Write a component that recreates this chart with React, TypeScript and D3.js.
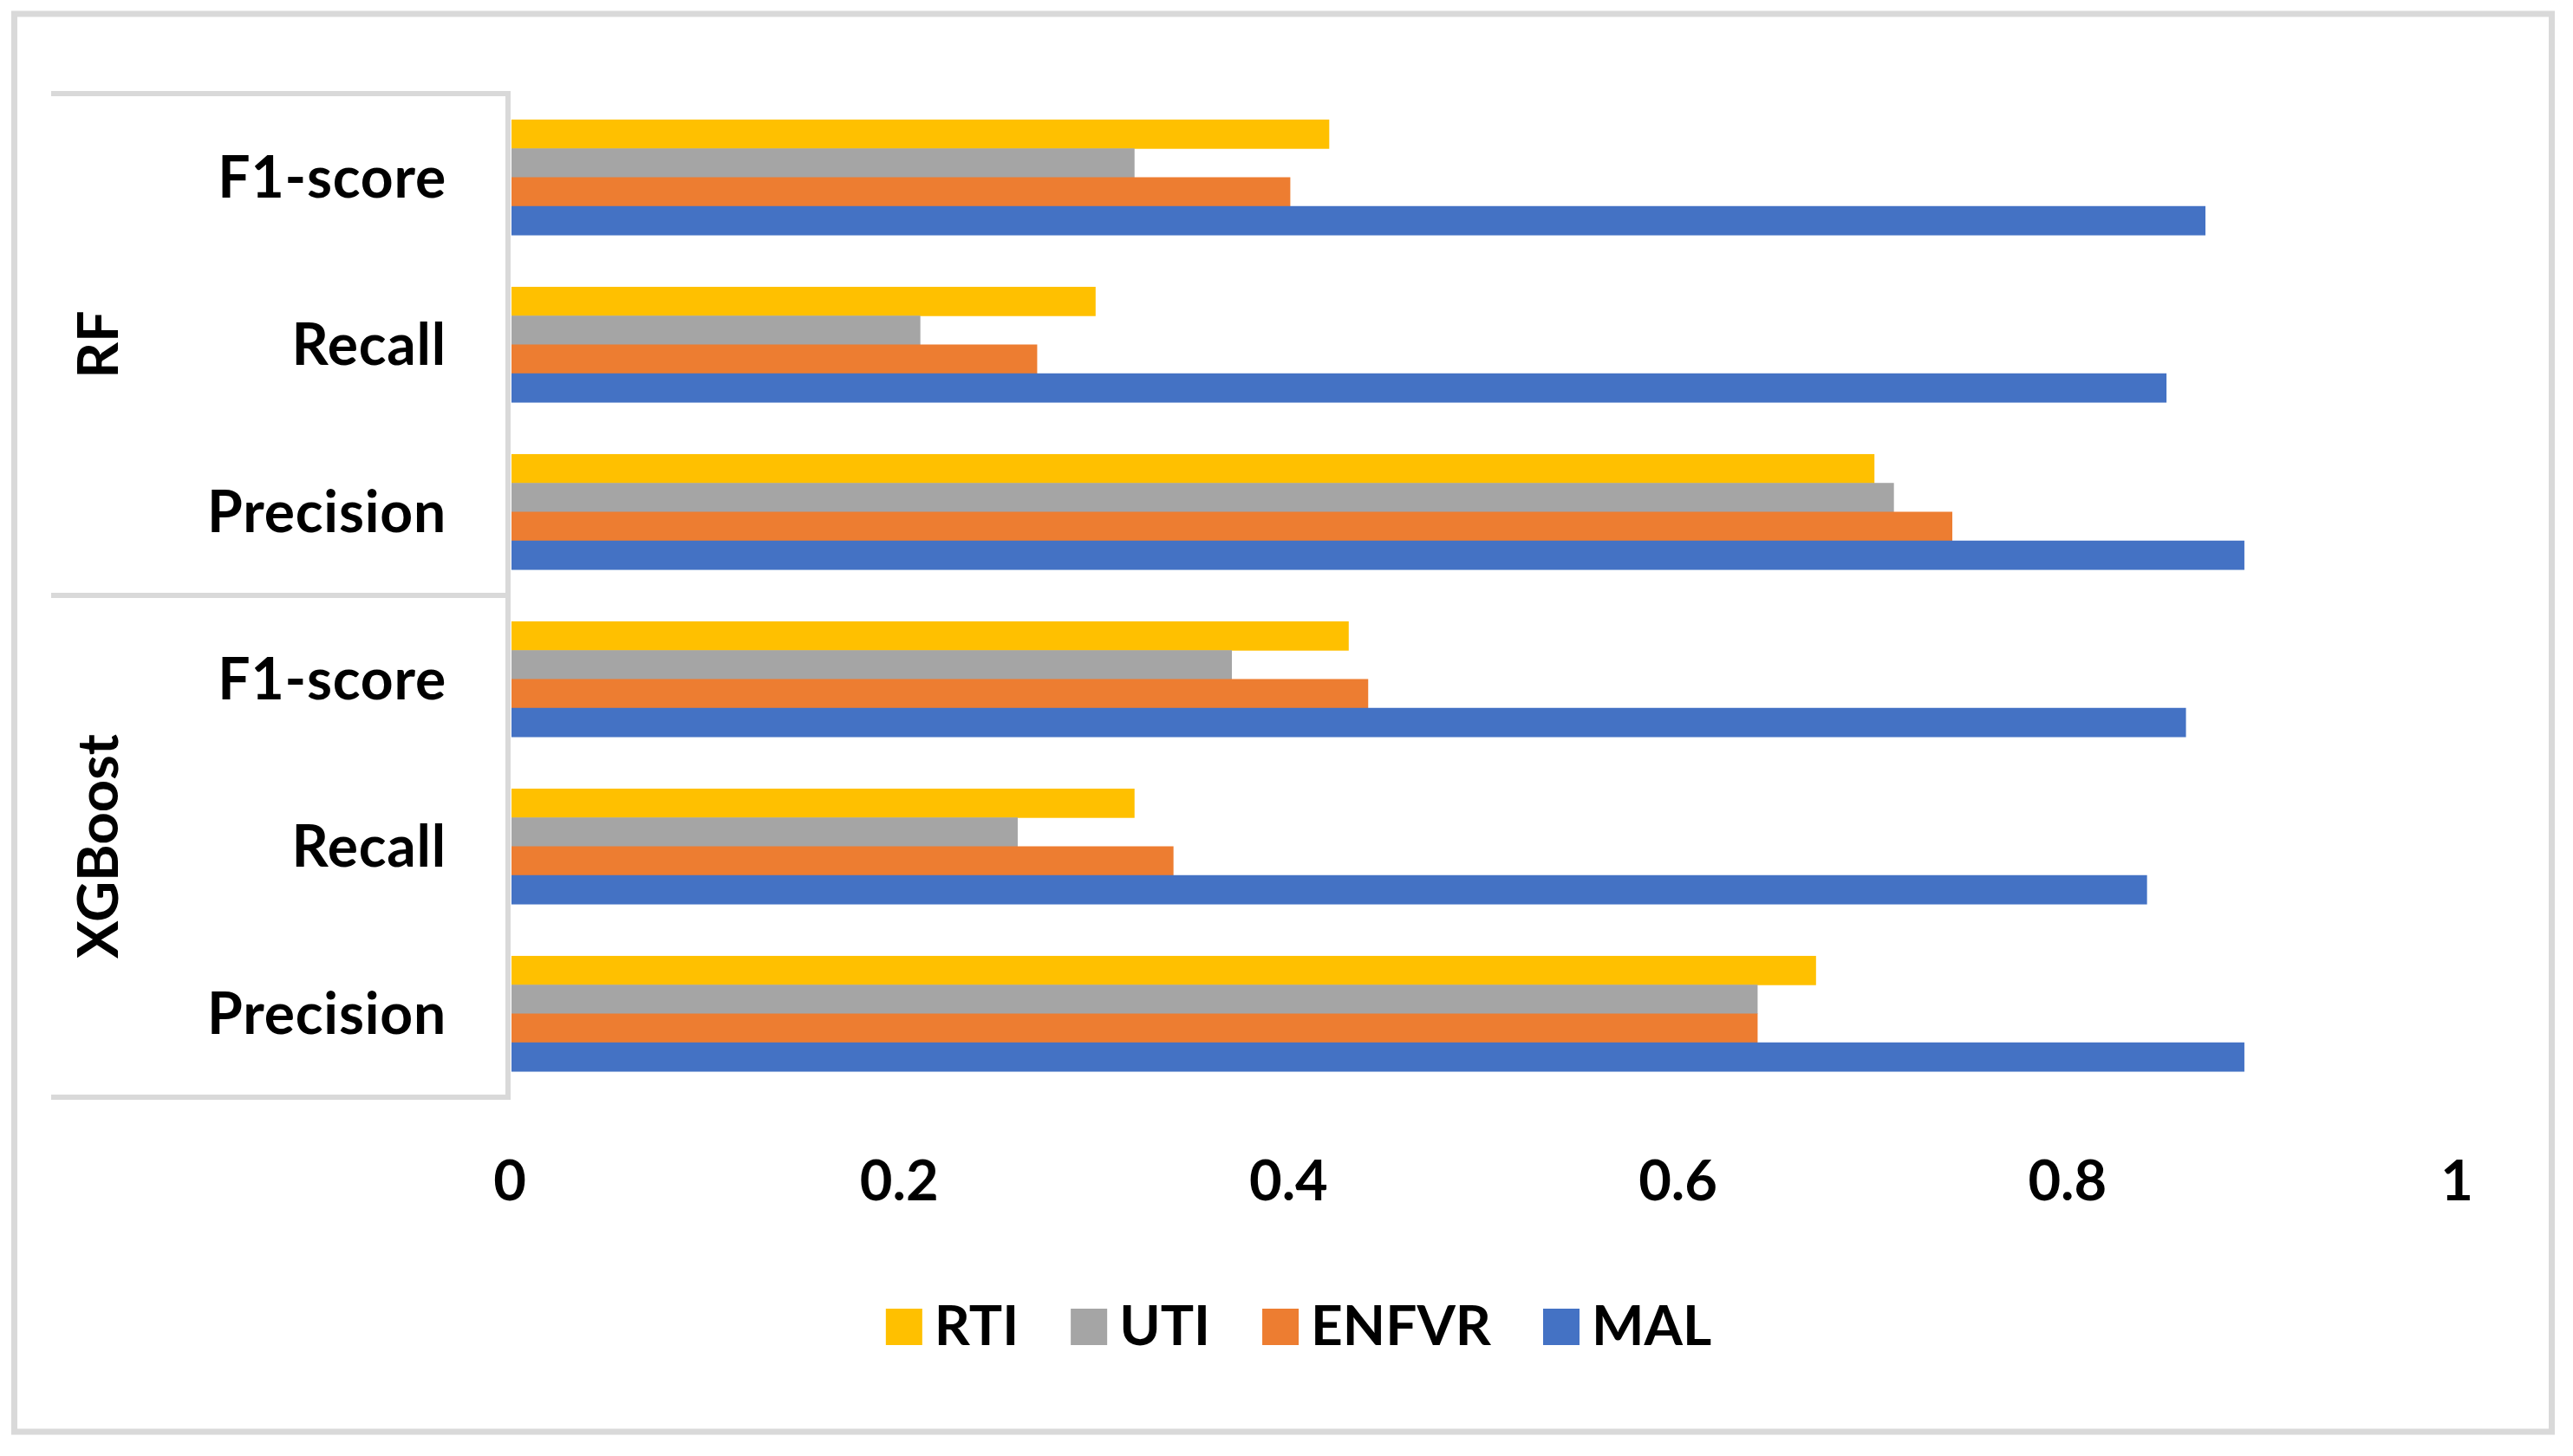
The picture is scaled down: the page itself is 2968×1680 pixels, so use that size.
import React, { useEffect, useRef } from "react";
import * as d3 from "d3";

const models = ["RF", "XGBoost"];
const metrics = ["F1-score", "Recall", "Precision"];
const seriesNames = ["RTI", "UTI", "ENFVR", "MAL"];
const seriesColors = ["#FFC000", "#A5A5A5", "#ED7D31", "#4472C4"];
// values in row order: RF F1, RF Recall, RF Precision, XGB F1, XGB Recall, XGB Precision
const rtiValues = [0.42, 0.3, 0.7, 0.43, 0.32, 0.67];
const utiValues = [0.32, 0.21, 0.71, 0.37, 0.26, 0.64];
const enfvrValues = [0.4, 0.27, 0.74, 0.44, 0.34, 0.64];
const malValues = [0.87, 0.85, 0.89, 0.86, 0.84, 0.89];
const tickValues = [0, 0.2, 0.4, 0.6, 0.8, 1];
const tickLabels = ["0", "0.2", "0.4", "0.6", "0.8", "1"];

const W = 2968;
const H = 1680;
const FONT = "Lato, 'Noto Sans', sans-serif";

export default function App() {
  const ref = useRef<SVGSVGElement | null>(null);

  useEffect(() => {
    document.body.style.margin = "0";
    const svg = d3.select(ref.current);
    svg.selectAll("*").remove();

    const seriesValues = [rtiValues, utiValues, enfvrValues, malValues];
    const rows: { key: string; model: string; metric: string; i: number }[] = [];
    models.forEach((m) =>
      metrics.forEach((k) => rows.push({ key: `${m}|${k}`, model: m, metric: k, i: rows.length }))
    );

    const x = d3.scaleLinear().domain([0, 1]).range([590, 2836]);
    const y = d3.scaleBand<string>().domain(rows.map((r) => r.key)).range([108, 1266]).padding(0);
    const sub = d3
      .scaleBand<string>()
      .domain(seriesNames)
      .range([0, y.bandwidth()])
      .paddingInner(0)
      .paddingOuter(0.9);

    svg.append("rect").attr("width", W).attr("height", H).attr("fill", "#fff");

    // outer border
    svg
      .append("rect")
      .attr("x", 16.5)
      .attr("y", 16)
      .attr("width", 2927)
      .attr("height", 1636)
      .attr("fill", "none")
      .attr("stroke", "#d9d9d9")
      .attr("stroke-width", 7);

    // bars
    rows.forEach((r) => {
      seriesNames.forEach((s, si) => {
        const v = seriesValues[si][r.i];
        svg
          .append("rect")
          .attr("x", x(0))
          .attr("y", (y(r.key) as number) + (sub(s) as number))
          .attr("width", x(v) - x(0))
          .attr("height", sub.bandwidth() + 0.5)
          .attr("fill", seriesColors[si]);
      });
    });

    // category box lines
    const boxLeft = 59;
    const boxRight = 586;
    const lineG = svg.append("g").attr("stroke", "#d9d9d9").attr("stroke-width", 6);
    const groupEdges: number[] = [];
    models.forEach((m, mi) => {
      const first = y(`${m}|${metrics[0]}`) as number;
      if (mi === 0) groupEdges.push(first);
      groupEdges.push(first + y.step() * metrics.length);
    });
    groupEdges.forEach((gy) =>
      lineG.append("line").attr("x1", boxLeft).attr("x2", boxRight + 3).attr("y1", gy).attr("y2", gy)
    );
    lineG
      .append("line")
      .attr("x1", boxRight)
      .attr("x2", boxRight)
      .attr("y1", groupEdges[0] - 3)
      .attr("y2", groupEdges[groupEdges.length - 1] + 3);

    // category labels
    rows.forEach((r) => {
      const cy = (y(r.key) as number) + y.bandwidth() / 2;
      svg
        .append("text")
        .attr("x", 515)
        .attr("y", cy + 23)
        .attr("text-anchor", "end")
        .attr("font-family", FONT)
        .attr("font-weight", 700)
        .attr("font-size", 66)
        .attr("letter-spacing", 0.8)
        .attr("fill", "#000")
        .text(r.metric);
    });

    // model labels
    models.forEach((m, mi) => {
      const cy = (groupEdges[mi] + groupEdges[mi + 1]) / 2;
      svg
        .append("text")
        .attr("transform", `translate(${136},${cy}) rotate(-90)`)
        .attr("text-anchor", "middle")
        .attr("font-family", FONT)
        .attr("font-weight", 700)
        .attr("font-size", 65)
        .attr("fill", "#000")
        .text(m);
    });

    // tick labels
    tickValues.forEach((t, i) => {
      svg
        .append("text")
        .attr("x", x(t) - 2)
        .attr("y", 1385)
        .attr("text-anchor", "middle")
        .attr("font-family", FONT)
        .attr("font-weight", 700)
        .attr("font-size", 65)
        .attr("fill", "#000")
        .text(tickLabels[i]);
    });

    // legend
    const legend = svg.append("g");
    const sw = 42;
    const gapText = 14;
    const gapItem = 60;
    const items = seriesNames.map((s, i) => {
      const g = legend.append("g");
      g.append("rect").attr("x", 0).attr("y", 1510).attr("width", sw).attr("height", sw).attr("fill", seriesColors[i]);
      const t = g
        .append("text")
        .attr("x", sw + gapText)
        .attr("y", 1552)
        .attr("font-family", FONT)
        .attr("font-weight", 700)
        .attr("font-size", 64)
        .attr("fill", "#000")
        .text(s);
      const tw = (t.node() as SVGTextElement).getComputedTextLength();
      return { g, w: sw + gapText + tw };
    });
    const total = items.reduce((a, it) => a + it.w, 0) + gapItem * (items.length - 1);
    let cx = 1498 - total / 2;
    items.forEach((it) => {
      it.g.attr("transform", `translate(${cx},0)`);
      cx += it.w + gapItem;
    });
  }, []);

  return <svg ref={ref} width={W} height={H} style={{ display: "block" }} />;
}
